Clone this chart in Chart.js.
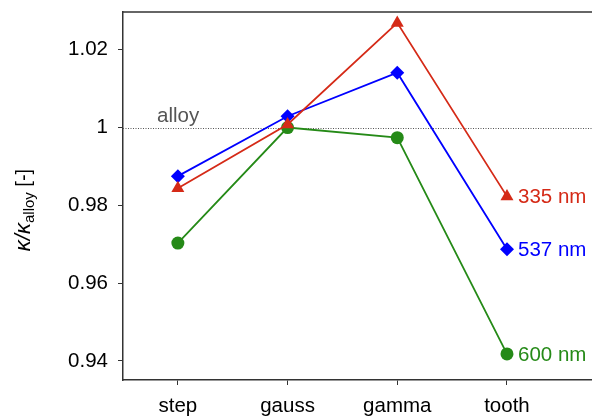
<!DOCTYPE html>
<html><head><meta charset="utf-8">
<script src="https://cdn.jsdelivr.net/npm/chart.js@4.4.0/dist/chart.umd.min.js"></script>
<style>html,body{margin:0;padding:0;background:#fff}#wrap{width:592px;height:418px}</style>
</head><body><div id="wrap"><canvas id="c" width="592" height="418"></canvas></div>
<script>
const categories = ['step', 'gauss', 'gamma', 'tooth'];
const yTicks = [0.94, 0.96, 0.98, 1.00, 1.02];
const seriesNames = ['335 nm', '537 nm', '600 nm'];
const values335 = [0.9844, 1.0008, 1.0269, 0.9823];
const values537 = [0.9875, 1.0029, 1.0141, 0.9687];
const values600 = [0.9703, 1.0000, 0.9974, 0.9418];
const referenceValue = 1.0;
const referenceLabel = 'alloy';

const colors = ['#d52a17', '#0000ff', '#258a17'];
const styles = ['triangle', 'rectRot', 'circle'];
const radii = [7.5, 7, 6.5];
const allValues = [values335, values537, values600];

const FONT = '"Liberation Sans", Arial, Helvetica, sans-serif';
const FS = 20.5;

const datasets = allValues.map((vals, k) => ({
  label: seriesNames[k],
  data: vals.map((v, i) => ({x: i + 1, y: v})),
  borderColor: colors[k],
  backgroundColor: colors[k],
  borderWidth: 1.8,
  pointStyle: styles[k],
  pointRadius: radii[k],
  pointHoverRadius: radii[k],
  pointBorderWidth: 0,
  tension: 0,
  clip: false
}));

const extras = {
  id: 'extras',
  beforeDatasetsDraw(chart) {
    const ctx = chart.ctx, a = chart.chartArea;
    const ys = chart.scales.y;
    const yr = Math.round(ys.getPixelForValue(referenceValue)) + 0.5;
    ctx.save();
    ctx.strokeStyle = '#555';
    ctx.lineWidth = 1;
    ctx.setLineDash([1, 1.5]);
    ctx.beginPath(); ctx.moveTo(a.left, yr); ctx.lineTo(a.right, yr); ctx.stroke();
    ctx.setLineDash([]);
    ctx.fillStyle = '#555';
    ctx.font = FS + 'px ' + FONT;
    ctx.textBaseline = 'alphabetic';
    ctx.textAlign = 'left';
    ctx.fillText(referenceLabel, a.left + 34, yr - 7);
    // top border
    ctx.strokeStyle = '#333';
    ctx.lineWidth = 1.5;
    ctx.beginPath(); ctx.moveTo(a.left, a.top); ctx.lineTo(a.right, a.top); ctx.stroke();
    ctx.restore();
  },
  afterDatasetsDraw(chart) {
    const ctx = chart.ctx;
    const xs = chart.scales.x, ys = chart.scales.y;
    ctx.save();
    ctx.font = FS + 'px ' + FONT;
    ctx.textAlign = 'left';
    ctx.textBaseline = 'middle';
    allValues.forEach((vals, k) => {
      const last = vals.length - 1;
      ctx.fillStyle = colors[k];
      ctx.fillText(seriesNames[k], xs.getPixelForValue(last + 1) + 11, ys.getPixelForValue(vals[last]) + 1);
    });
    // y title: κ/κ_alloy [-]
    ctx.translate(24, 210);
    ctx.rotate(-Math.PI / 2);
    ctx.fillStyle = '#000';
    ctx.textBaseline = 'middle';
    const p1 = 'κ/κ', p2 = 'alloy', p3 = ' [-]';
    const f1 = 'italic 22px ' + FONT, f2 = '15px ' + FONT, f3 = '20px ' + FONT;
    ctx.font = f1; const w1 = ctx.measureText(p1).width;
    ctx.font = f2; const w2 = ctx.measureText(p2).width;
    ctx.font = f3; const w3 = ctx.measureText(p3).width;
    let x0 = -(w1 + w2 + w3) / 2;
    ctx.textAlign = 'left';
    ctx.font = f1; ctx.fillText(p1, x0, 0); x0 += w1;
    ctx.font = f2; ctx.fillText(p2, x0, 6); x0 += w2;
    ctx.font = f3; ctx.fillText(p3, x0, 0);
    ctx.restore();
  }
};

new Chart(document.getElementById('c'), {
  type: 'line',
  data: { datasets },
  plugins: [extras],
  options: {
    responsive: false,
    animation: false,
    devicePixelRatio: 1,
    layout: { padding: { left: 0, top: 12, right: 0, bottom: 0 }, autoPadding: false },
    plugins: { legend: { display: false }, tooltip: { enabled: false } },
    scales: {
      x: {
        type: 'linear',
        min: 0.5,
        max: 4.775,
        afterBuildTicks(s) { s.ticks = categories.map((c, i) => ({ value: i + 1 })); },
        afterFit(s) { s.height = 38; s.paddingLeft = 0; s.paddingRight = 0; },
        ticks: {
          callback: (v) => categories[v - 1] ?? '',
          font: { size: FS, family: FONT },
          color: '#000',
          padding: 9,
          maxRotation: 0,
          autoSkip: false
        },
        grid: { display: true, drawOnChartArea: false, drawTicks: true, tickLength: 5, color: '#333', tickWidth: 1 },
        border: { display: true, color: '#333', width: 1.5 }
      },
      y: {
        type: 'linear',
        min: 0.9351,
        max: 1.0297,
        afterBuildTicks(s) { s.ticks = yTicks.map(v => ({ value: v })); },
        afterFit(s) { s.width = 123; s.paddingTop = 0; s.paddingBottom = 0; },
        ticks: {
          callback: (v) => (Math.abs(v - 1) < 1e-9 ? '1' : v.toFixed(2)),
          font: { size: FS, family: FONT },
          color: '#000',
          padding: 10
        },
        grid: { display: true, drawOnChartArea: false, drawTicks: true, tickLength: 5, color: '#333', tickWidth: 1 },
        border: { display: true, color: '#333', width: 1.5 }
      }
    }
  }
});
</script>
</body></html>
